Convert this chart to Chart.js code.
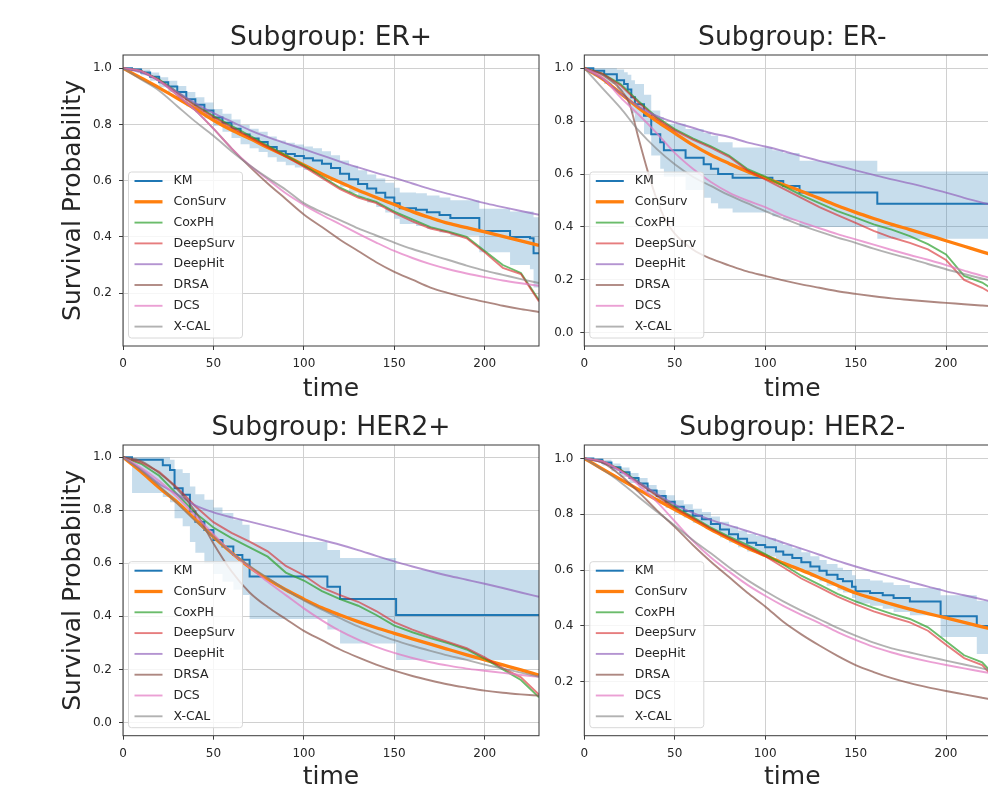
<!DOCTYPE html>
<html>
<head>
<meta charset="utf-8">
<title>Survival curves by subgroup</title>
<script src="https://cdn.jsdelivr.net/npm/chart.js@4.4.1/dist/chart.umd.min.js"></script>
<style>
  html, body { margin: 0; padding: 0; background: #ffffff; }
  body { width: 988px; height: 785px; position: relative; overflow: hidden; }
  canvas { position: absolute; }
</style>
</head>
<body>
<canvas id="erPos" width="560" height="410" style="left:0px;top:0px"></canvas>
<canvas id="erNeg" width="530" height="410" style="left:494px;top:0px"></canvas>
<canvas id="herPos" width="560" height="410" style="left:0px;top:392px"></canvas>
<canvas id="herNeg" width="530" height="410" style="left:494px;top:392px"></canvas>
<script>
// ---- data ----
const TIME_GRID = [0, 10, 20, 30, 40, 50, 60, 70, 80, 90, 100, 110, 120, 130, 140, 150, 160, 170, 180, 190, 200, 210, 220, 230];
const X_TICKS = [0, 50, 100, 150, 200];

// Subgroup ER+
const ER_POS_KM_T = [0, 5, 10, 15, 20, 25, 30, 35, 40, 45, 50, 55, 60, 65, 70, 75, 80, 85, 90, 95, 100, 105, 110, 115, 120, 125, 130, 135, 140, 145, 150, 153, 162, 168, 175, 181, 197, 214, 225, 227, 230];
const ER_POS_KM = [1.0, 0.995, 0.985, 0.97, 0.95, 0.935, 0.915, 0.89, 0.87, 0.85, 0.825, 0.806, 0.785, 0.764, 0.75, 0.738, 0.72, 0.705, 0.695, 0.688, 0.68, 0.672, 0.66, 0.645, 0.625, 0.605, 0.588, 0.572, 0.557, 0.54, 0.52, 0.502, 0.497, 0.488, 0.478, 0.467, 0.421, 0.40, 0.395, 0.342, 0.342];
const ER_POS_KM_HI = [1.0, 1.0, 0.995, 0.985, 0.968, 0.955, 0.937, 0.915, 0.897, 0.878, 0.855, 0.838, 0.818, 0.798, 0.785, 0.774, 0.757, 0.743, 0.735, 0.729, 0.722, 0.715, 0.705, 0.69, 0.672, 0.653, 0.637, 0.622, 0.608, 0.593, 0.575, 0.558, 0.555, 0.547, 0.54, 0.53, 0.50, 0.49, 0.49, 0.47, 0.47];
const ER_POS_KM_LO = [1.0, 0.99, 0.975, 0.955, 0.932, 0.915, 0.893, 0.865, 0.843, 0.822, 0.795, 0.774, 0.752, 0.73, 0.715, 0.702, 0.683, 0.667, 0.655, 0.647, 0.638, 0.629, 0.615, 0.60, 0.578, 0.557, 0.539, 0.522, 0.506, 0.487, 0.465, 0.446, 0.439, 0.429, 0.416, 0.404, 0.345, 0.30, 0.285, 0.22, 0.22];
const ER_POS_CONSURV = [1.0, 0.965, 0.93, 0.893, 0.855, 0.815, 0.78, 0.75, 0.718, 0.688, 0.656, 0.624, 0.594, 0.566, 0.54, 0.515, 0.49, 0.468, 0.448, 0.433, 0.418, 0.402, 0.386, 0.37];
const ER_POS_COXPH = [1.0, 0.99, 0.96, 0.915, 0.87, 0.83, 0.795, 0.76, 0.725, 0.69, 0.655, 0.615, 0.575, 0.545, 0.525, 0.49, 0.462, 0.435, 0.419, 0.40, 0.35, 0.30, 0.272, 0.175];
const ER_POS_DEEPSURV = [1.0, 0.99, 0.958, 0.912, 0.866, 0.826, 0.79, 0.755, 0.72, 0.685, 0.65, 0.61, 0.57, 0.54, 0.52, 0.485, 0.455, 0.43, 0.415, 0.395, 0.345, 0.29, 0.268, 0.17];
const ER_POS_DEEPHIT = [1.0, 0.985, 0.955, 0.915, 0.875, 0.84, 0.81, 0.78, 0.755, 0.733, 0.712, 0.69, 0.668, 0.647, 0.628, 0.61, 0.59, 0.57, 0.553, 0.537, 0.52, 0.506, 0.492, 0.479];
const ER_POS_DRSA = [1.0, 0.99, 0.955, 0.905, 0.85, 0.785, 0.715, 0.65, 0.59, 0.535, 0.48, 0.435, 0.39, 0.35, 0.31, 0.276, 0.248, 0.22, 0.2, 0.183, 0.169, 0.155, 0.143, 0.133];
const ER_POS_DCS = [1.0, 0.99, 0.955, 0.905, 0.85, 0.785, 0.715, 0.655, 0.605, 0.555, 0.514, 0.478, 0.445, 0.412, 0.38, 0.35, 0.325, 0.303, 0.285, 0.27, 0.257, 0.245, 0.235, 0.226];
const ER_POS_XCAL = [1.0, 0.96, 0.92, 0.865, 0.81, 0.76, 0.705, 0.655, 0.61, 0.568, 0.52, 0.488, 0.46, 0.43, 0.405, 0.38, 0.357, 0.337, 0.318, 0.298, 0.28, 0.265, 0.25, 0.236];
const ER_POS_YTICKS = [0.2, 0.4, 0.6, 0.8, 1.0];

// Subgroup ER-
const ER_NEG_KM_T = [0, 5, 11, 18, 22, 24, 26, 28, 33, 37, 42, 44, 56, 66, 70, 74, 82, 104, 110, 119, 162, 230];
const ER_NEG_KM = [1.0, 0.99, 0.977, 0.955, 0.94, 0.92, 0.89, 0.864, 0.82, 0.75, 0.72, 0.69, 0.662, 0.637, 0.62, 0.60, 0.586, 0.574, 0.555, 0.53, 0.488, 0.488];
const ER_NEG_KM_HI = [1.0, 1.0, 1.0, 0.995, 0.985, 0.975, 0.955, 0.94, 0.90, 0.84, 0.815, 0.79, 0.77, 0.755, 0.745, 0.72, 0.70, 0.69, 0.68, 0.65, 0.61, 0.61];
const ER_NEG_KM_LO = [1.0, 0.97, 0.94, 0.91, 0.89, 0.86, 0.83, 0.80, 0.75, 0.67, 0.62, 0.59, 0.54, 0.51, 0.49, 0.47, 0.455, 0.44, 0.425, 0.40, 0.355, 0.355];
const ER_NEG_CONSURV = [1.0, 0.96, 0.905, 0.85, 0.80, 0.755, 0.71, 0.672, 0.64, 0.61, 0.585, 0.56, 0.535, 0.508, 0.48, 0.455, 0.432, 0.41, 0.39, 0.369, 0.348, 0.327, 0.306, 0.286];
const ER_NEG_COXPH = [1.0, 0.98, 0.94, 0.875, 0.815, 0.77, 0.735, 0.705, 0.67, 0.62, 0.59, 0.555, 0.52, 0.49, 0.46, 0.435, 0.41, 0.39, 0.365, 0.335, 0.296, 0.215, 0.19, 0.145];
const ER_NEG_DEEPSURV = [1.0, 0.98, 0.935, 0.87, 0.81, 0.765, 0.73, 0.70, 0.665, 0.615, 0.58, 0.545, 0.51, 0.475, 0.445, 0.415, 0.385, 0.36, 0.34, 0.315, 0.275, 0.2, 0.17, 0.13];
const ER_NEG_DEEPHIT = [1.0, 0.96, 0.905, 0.855, 0.82, 0.795, 0.775, 0.755, 0.74, 0.72, 0.704, 0.687, 0.668, 0.65, 0.632, 0.614, 0.597, 0.58, 0.565, 0.548, 0.53, 0.51, 0.492, 0.475];
const ER_NEG_DRSA_T = [0, 10, 20, 25, 30, 35, 40, 45, 50, 60, 70, 80, 90, 100, 110, 120, 130, 140, 150, 160, 170, 180, 190, 200, 210, 220, 230];
const ER_NEG_DRSA = [1.0, 0.975, 0.92, 0.865, 0.735, 0.612, 0.505, 0.425, 0.375, 0.315, 0.28, 0.255, 0.232, 0.215, 0.198, 0.183, 0.17, 0.157, 0.147, 0.138, 0.13, 0.124, 0.118, 0.113, 0.108, 0.103, 0.098];
const ER_NEG_DCS = [1.0, 0.965, 0.89, 0.825, 0.755, 0.68, 0.62, 0.57, 0.53, 0.50, 0.475, 0.443, 0.418, 0.395, 0.373, 0.353, 0.333, 0.313, 0.294, 0.276, 0.256, 0.235, 0.215, 0.198];
const ER_NEG_XCAL = [1.0, 0.925, 0.85, 0.765, 0.695, 0.637, 0.59, 0.555, 0.52, 0.49, 0.46, 0.432, 0.406, 0.382, 0.36, 0.34, 0.318, 0.298, 0.28, 0.26, 0.24, 0.222, 0.205, 0.19];
const ER_NEG_YTICKS = [0.0, 0.2, 0.4, 0.6, 0.8, 1.0];

// Subgroup HER2+
const HER_POS_KM_T = [0, 5, 22, 26, 28.5, 33, 37, 40, 45, 50, 55, 61, 66, 70, 113, 120, 151, 230];
const HER_POS_KM = [1.0, 0.99, 0.97, 0.952, 0.883, 0.858, 0.795, 0.757, 0.726, 0.688, 0.663, 0.631, 0.613, 0.55, 0.512, 0.465, 0.405, 0.405];
const HER_POS_KM_HI = [1.0, 1.0, 1.0, 0.99, 0.955, 0.94, 0.89, 0.86, 0.84, 0.81, 0.79, 0.765, 0.745, 0.68, 0.65, 0.62, 0.575, 0.575];
const HER_POS_KM_LO = [1.0, 0.865, 0.85, 0.83, 0.77, 0.74, 0.68, 0.64, 0.60, 0.56, 0.53, 0.50, 0.48, 0.39, 0.35, 0.298, 0.235, 0.235];
const HER_POS_CONSURV = [1.0, 0.945, 0.885, 0.83, 0.765, 0.70, 0.64, 0.585, 0.54, 0.50, 0.465, 0.432, 0.405, 0.38, 0.357, 0.336, 0.315, 0.295, 0.275, 0.255, 0.236, 0.217, 0.198, 0.178];
const HER_POS_COXPH = [1.0, 0.975, 0.93, 0.86, 0.79, 0.735, 0.695, 0.66, 0.625, 0.565, 0.535, 0.495, 0.465, 0.44, 0.405, 0.365, 0.34, 0.318, 0.298, 0.275, 0.24, 0.2, 0.16, 0.095];
const HER_POS_DEEPSURV = [1.0, 0.98, 0.945, 0.885, 0.815, 0.755, 0.715, 0.682, 0.645, 0.59, 0.555, 0.508, 0.48, 0.455, 0.42, 0.378, 0.35, 0.325, 0.303, 0.28, 0.245, 0.205, 0.17, 0.105];
const HER_POS_DEEPHIT = [1.0, 0.955, 0.9, 0.86, 0.818, 0.792, 0.773, 0.757, 0.74, 0.723, 0.705, 0.688, 0.67, 0.65, 0.628, 0.607, 0.588, 0.57, 0.553, 0.538, 0.523, 0.507, 0.49, 0.474];
const HER_POS_DRSA = [1.0, 0.985, 0.94, 0.88, 0.795, 0.675, 0.57, 0.49, 0.435, 0.39, 0.345, 0.31, 0.275, 0.245, 0.218, 0.195, 0.175, 0.158, 0.143, 0.131, 0.12, 0.112, 0.106, 0.101];
const HER_POS_DCS = [1.0, 0.96, 0.91, 0.85, 0.78, 0.71, 0.64, 0.585, 0.53, 0.48, 0.43, 0.385, 0.345, 0.312, 0.285, 0.262, 0.243, 0.227, 0.214, 0.203, 0.195, 0.187, 0.179, 0.172];
const HER_POS_XCAL = [1.0, 0.95, 0.893, 0.825, 0.76, 0.70, 0.64, 0.59, 0.545, 0.50, 0.46, 0.425, 0.393, 0.362, 0.335, 0.31, 0.289, 0.27, 0.252, 0.236, 0.218, 0.203, 0.188, 0.172];
const HER_POS_YTICKS = [0.0, 0.2, 0.4, 0.6, 0.8, 1.0];

// Subgroup HER2-
const HER_NEG_KM_T = [0, 5, 10, 15, 20, 25, 30, 35, 40, 45, 50, 55, 60, 65, 70, 75, 80, 85, 90, 95, 100, 106, 110, 115, 120, 125, 130, 134, 140, 143, 148, 150, 158, 165, 171, 180, 197, 217, 230];
const HER_NEG_KM = [1.0, 0.995, 0.985, 0.968, 0.95, 0.93, 0.91, 0.885, 0.865, 0.845, 0.827, 0.812, 0.795, 0.782, 0.765, 0.745, 0.728, 0.712, 0.698, 0.69, 0.682, 0.667, 0.655, 0.643, 0.628, 0.613, 0.598, 0.583, 0.568, 0.56, 0.54, 0.524, 0.518, 0.51, 0.50, 0.488, 0.435, 0.40, 0.40];
const HER_NEG_KM_HI = [1.0, 1.0, 0.995, 0.982, 0.967, 0.948, 0.93, 0.905, 0.887, 0.868, 0.85, 0.836, 0.82, 0.808, 0.792, 0.773, 0.757, 0.742, 0.729, 0.722, 0.715, 0.70, 0.69, 0.678, 0.664, 0.65, 0.636, 0.622, 0.608, 0.60, 0.582, 0.568, 0.563, 0.556, 0.547, 0.536, 0.51, 0.49, 0.49];
const HER_NEG_KM_LO = [1.0, 0.99, 0.975, 0.954, 0.933, 0.912, 0.89, 0.865, 0.843, 0.822, 0.804, 0.788, 0.77, 0.756, 0.738, 0.717, 0.699, 0.682, 0.667, 0.658, 0.649, 0.634, 0.62, 0.608, 0.592, 0.576, 0.56, 0.544, 0.528, 0.52, 0.50, 0.48, 0.472, 0.462, 0.45, 0.438, 0.36, 0.30, 0.30];
const HER_NEG_CONSURV = [1.0, 0.962, 0.925, 0.888, 0.852, 0.817, 0.782, 0.745, 0.712, 0.68, 0.652, 0.625, 0.60, 0.573, 0.545, 0.518, 0.498, 0.478, 0.46, 0.444, 0.429, 0.413, 0.397, 0.382];
const HER_NEG_COXPH = [1.0, 0.99, 0.96, 0.915, 0.87, 0.827, 0.79, 0.752, 0.72, 0.69, 0.657, 0.62, 0.58, 0.548, 0.515, 0.488, 0.465, 0.443, 0.425, 0.395, 0.345, 0.295, 0.27, 0.2];
const HER_NEG_DEEPSURV = [1.0, 0.99, 0.958, 0.912, 0.866, 0.823, 0.786, 0.748, 0.715, 0.684, 0.65, 0.61, 0.57, 0.538, 0.505, 0.477, 0.452, 0.432, 0.413, 0.383, 0.333, 0.285, 0.26, 0.19];
const HER_NEG_DEEPHIT = [1.0, 0.985, 0.955, 0.915, 0.873, 0.835, 0.805, 0.78, 0.76, 0.74, 0.72, 0.698, 0.677, 0.655, 0.633, 0.613, 0.594, 0.576, 0.558, 0.541, 0.524, 0.51, 0.495, 0.48];
const HER_NEG_DRSA = [1.0, 0.985, 0.94, 0.88, 0.815, 0.755, 0.69, 0.63, 0.575, 0.52, 0.47, 0.415, 0.37, 0.33, 0.293, 0.26, 0.235, 0.213, 0.195, 0.18, 0.167, 0.155, 0.143, 0.131];
const HER_NEG_DCS = [1.0, 0.99, 0.955, 0.905, 0.845, 0.775, 0.705, 0.645, 0.595, 0.548, 0.508, 0.472, 0.44, 0.41, 0.378, 0.35, 0.325, 0.305, 0.288, 0.273, 0.26, 0.248, 0.236, 0.225];
const HER_NEG_XCAL = [1.0, 0.96, 0.915, 0.862, 0.81, 0.76, 0.708, 0.66, 0.61, 0.565, 0.525, 0.488, 0.455, 0.424, 0.393, 0.365, 0.34, 0.32, 0.305, 0.29, 0.276, 0.262, 0.248, 0.234];
const HER_NEG_YTICKS = [0.2, 0.4, 0.6, 0.8, 1.0];

// ---- styling ----
Chart.defaults.font.family = "'DejaVu Sans', sans-serif";
Chart.defaults.color = "#262626";

const TEXT_COLOR = "#262626";
const GRID_COLOR = "#d0d0d0";
const AXIS_COLOR = "#3a3a3a";
const BAND_COLOR = "rgba(31, 119, 180, 0.25)";

const SERIES_STYLE = {
  KM: { color: "#1f77b4", width: 2 },
  ConSurv: { color: "#ff7f0e", width: 3.3, smooth: true },
  CoxPH: { color: "rgba(44, 160, 44, 0.7)", width: 1.9 },
  DeepSurv: { color: "rgba(214, 39, 40, 0.6)", width: 1.9 },
  DeepHit: { color: "rgba(148, 103, 189, 0.7)", width: 1.9, smooth: true },
  DRSA: { color: "rgba(140, 86, 75, 0.7)", width: 1.9, smooth: true },
  DCS: { color: "rgba(227, 119, 194, 0.7)", width: 1.9, smooth: true },
  "X-CAL": { color: "rgba(127, 127, 127, 0.6)", width: 1.9, smooth: true },
};

function toPoints(xs, ys) {
  return xs.map((x, i) => ({ x: x, y: ys[i] }));
}

// box around the plotting area (matplotlib style spines)
const frame = {
  id: "frame",
  afterDraw(chart) {
    const { ctx, chartArea } = chart;
    ctx.save();
    ctx.strokeStyle = AXIS_COLOR;
    ctx.lineWidth = 1;
    ctx.strokeRect(chartArea.left, chartArea.top, chartArea.right - chartArea.left, chartArea.bottom - chartArea.top);
    ctx.restore();
  },
};

// legend drawn inside the axes, lower left
const insideLegend = {
  id: "insideLegend",
  afterDatasetsDraw(chart) {
    const { ctx, chartArea } = chart;
    const items = chart.data.datasets.filter((d) => d.inLegend);
    const boxW = 114;
    const rowH = 20.8;
    const boxH = 166;
    const x0 = chartArea.left + 5.5;
    const y0 = chartArea.bottom - 8 - boxH;

    ctx.save();
    ctx.beginPath();
    ctx.roundRect(x0, y0, boxW, boxH, 3);
    ctx.fillStyle = "rgba(255, 255, 255, 0.8)";
    ctx.fill();
    ctx.strokeStyle = "#d8d8d8";
    ctx.lineWidth = 1;
    ctx.stroke();

    ctx.font = "12.5px 'DejaVu Sans'";
    ctx.textBaseline = "middle";
    ctx.textAlign = "left";
    items.forEach((d, i) => {
      const y = y0 + 9 + i * rowH;
      ctx.strokeStyle = d.borderColor;
      ctx.lineWidth = d.borderWidth;
      ctx.beginPath();
      ctx.moveTo(x0 + 6, y);
      ctx.lineTo(x0 + 34, y);
      ctx.stroke();
      ctx.fillStyle = TEXT_COLOR;
      ctx.fillText(d.label, x0 + 45, y);
    });
    ctx.restore();
  },
};

function createPanel(canvasId, p) {
  const ctx = document.getElementById(canvasId);
  if (!ctx) return;

  const datasets = [
    {
      label: "KM lower",
      data: toPoints(p.kmT, p.kmLo),
      stepped: true,
      borderColor: "rgba(0,0,0,0)",
      borderWidth: 0,
      pointRadius: 0,
      fill: false,
    },
    {
      label: "KM upper",
      data: toPoints(p.kmT, p.kmHi),
      stepped: true,
      borderColor: "rgba(0,0,0,0)",
      borderWidth: 0,
      pointRadius: 0,
      backgroundColor: BAND_COLOR,
      fill: "-1",
    },
    {
      label: "KM",
      data: toPoints(p.kmT, p.km),
      stepped: true,
      borderColor: SERIES_STYLE.KM.color,
      borderWidth: SERIES_STYLE.KM.width,
      pointRadius: 0,
      fill: false,
      inLegend: true,
    },
  ];

  p.models.forEach((m) => {
    const style = SERIES_STYLE[m.label];
    datasets.push({
      label: m.label,
      data: toPoints(m.t || TIME_GRID, m.values),
      borderColor: style.color,
      borderWidth: style.width,
      pointRadius: 0,
      fill: false,
      cubicInterpolationMode: style.smooth ? "monotone" : "default",
      tension: 0,
      inLegend: true,
    });
  });

  // later series are painted on top, like the plotting order
  datasets.forEach((d, i) => {
    d.order = datasets.length - i;
  });

  new Chart(ctx, {
    type: "line",
    data: { datasets: datasets },
    plugins: [frame, insideLegend],
    options: {
      responsive: false,
      animation: false,
      devicePixelRatio: 1,
      layout: { padding: { left: 0, top: 0, bottom: 0, right: p.padRight } },
      plugins: {
        legend: { display: false },
        tooltip: { enabled: false },
        title: {
          display: true,
          text: p.title,
          fullSize: false,
          color: TEXT_COLOR,
          font: { size: 26.5, weight: "normal" },
          padding: { top: p.titleTop, bottom: p.titleBottom },
        },
      },
      scales: {
        x: {
          type: "linear",
          min: 0,
          max: 230,
          bounds: "data",
          afterBuildTicks: (axis) => {
            axis.ticks = X_TICKS.map((v) => ({ value: v }));
          },
          afterFit: (scale) => {
            scale.height = p.xHeight;
          },
          grid: { color: GRID_COLOR, lineWidth: 1, tickLength: 4, tickColor: AXIS_COLOR },
          border: { display: false },
          ticks: { color: TEXT_COLOR, font: { size: 12 }, padding: 7, maxRotation: 0, autoSkip: false },
          title: {
            display: true,
            text: "time",
            color: TEXT_COLOR,
            font: { size: 25 },
            padding: { top: 0, bottom: p.timeBottom },
          },
        },
        y: {
          type: "linear",
          min: p.yMin,
          max: p.yMax,
          bounds: "data",
          afterBuildTicks: (axis) => {
            axis.ticks = p.yTicks.map((v) => ({ value: v }));
          },
          afterFit: (scale) => {
            scale.width = p.yWidth;
          },
          grid: { color: GRID_COLOR, lineWidth: 1, tickLength: 4, tickColor: AXIS_COLOR },
          border: { display: false },
          ticks: {
            color: TEXT_COLOR,
            font: { size: 12 },
            padding: 7,
            autoSkip: false,
            callback: function (value) {
              return Number(value).toFixed(1);
            },
          },
          title: {
            display: p.showYTitle,
            text: "Survival Probability",
            color: TEXT_COLOR,
            font: { size: 25 },
            padding: { top: 58, bottom: 0 },
          },
        },
      },
    },
  });
}

createPanel("erPos", {
  title: "Subgroup: ER+",
  kmT: ER_POS_KM_T, km: ER_POS_KM, kmHi: ER_POS_KM_HI, kmLo: ER_POS_KM_LO,
  models: [
    { label: "ConSurv", values: ER_POS_CONSURV },
    { label: "CoxPH", values: ER_POS_COXPH },
    { label: "DeepSurv", values: ER_POS_DEEPSURV },
    { label: "DeepHit", values: ER_POS_DEEPHIT },
    { label: "DRSA", values: ER_POS_DRSA },
    { label: "DCS", values: ER_POS_DCS },
    { label: "X-CAL", values: ER_POS_XCAL },
  ],
  yMin: 0.012, yMax: 1.047, yTicks: ER_POS_YTICKS,
  showYTitle: true, yWidth: 123, padRight: 21,
  titleTop: 22.1, titleBottom: 1.1, xHeight: 64, timeBottom: 5.4,
});

createPanel("erNeg", {
  title: "Subgroup: ER-",
  kmT: ER_NEG_KM_T, km: ER_NEG_KM, kmHi: ER_NEG_KM_HI, kmLo: ER_NEG_KM_LO,
  models: [
    { label: "ConSurv", values: ER_NEG_CONSURV },
    { label: "CoxPH", values: ER_NEG_COXPH },
    { label: "DeepSurv", values: ER_NEG_DEEPSURV },
    { label: "DeepHit", values: ER_NEG_DEEPHIT },
    { label: "DRSA", t: ER_NEG_DRSA_T, values: ER_NEG_DRSA },
    { label: "DCS", values: ER_NEG_DCS },
    { label: "X-CAL", values: ER_NEG_XCAL },
  ],
  yMin: -0.05, yMax: 1.05, yTicks: ER_NEG_YTICKS,
  showYTitle: false, yWidth: 90.3, padRight: 23.7,
  titleTop: 22.1, titleBottom: 1.1, xHeight: 64, timeBottom: 5.4,
});

createPanel("herPos", {
  title: "Subgroup: HER2+",
  kmT: HER_POS_KM_T, km: HER_POS_KM, kmHi: HER_POS_KM_HI, kmLo: HER_POS_KM_LO,
  models: [
    { label: "ConSurv", values: HER_POS_CONSURV },
    { label: "CoxPH", values: HER_POS_COXPH },
    { label: "DeepSurv", values: HER_POS_DEEPSURV },
    { label: "DeepHit", values: HER_POS_DEEPHIT },
    { label: "DRSA", values: HER_POS_DRSA },
    { label: "DCS", values: HER_POS_DCS },
    { label: "X-CAL", values: HER_POS_XCAL },
  ],
  yMin: -0.05, yMax: 1.046, yTicks: HER_POS_YTICKS,
  showYTitle: true, yWidth: 123, padRight: 21,
  titleTop: 20.1, titleBottom: 1.1, xHeight: 66.3, timeBottom: 10,
});

createPanel("herNeg", {
  title: "Subgroup: HER2-",
  kmT: HER_NEG_KM_T, km: HER_NEG_KM, kmHi: HER_NEG_KM_HI, kmLo: HER_NEG_KM_LO,
  models: [
    { label: "ConSurv", values: HER_NEG_CONSURV },
    { label: "CoxPH", values: HER_NEG_COXPH },
    { label: "DeepSurv", values: HER_NEG_DEEPSURV },
    { label: "DeepHit", values: HER_NEG_DEEPHIT },
    { label: "DRSA", values: HER_NEG_DRSA },
    { label: "DCS", values: HER_NEG_DCS },
    { label: "X-CAL", values: HER_NEG_XCAL },
  ],
  yMin: 0.007, yMax: 1.048, yTicks: HER_NEG_YTICKS,
  showYTitle: false, yWidth: 90.3, padRight: 23.7,
  titleTop: 20.1, titleBottom: 1.1, xHeight: 66.3, timeBottom: 10,
});
</script>
</body>
</html>
